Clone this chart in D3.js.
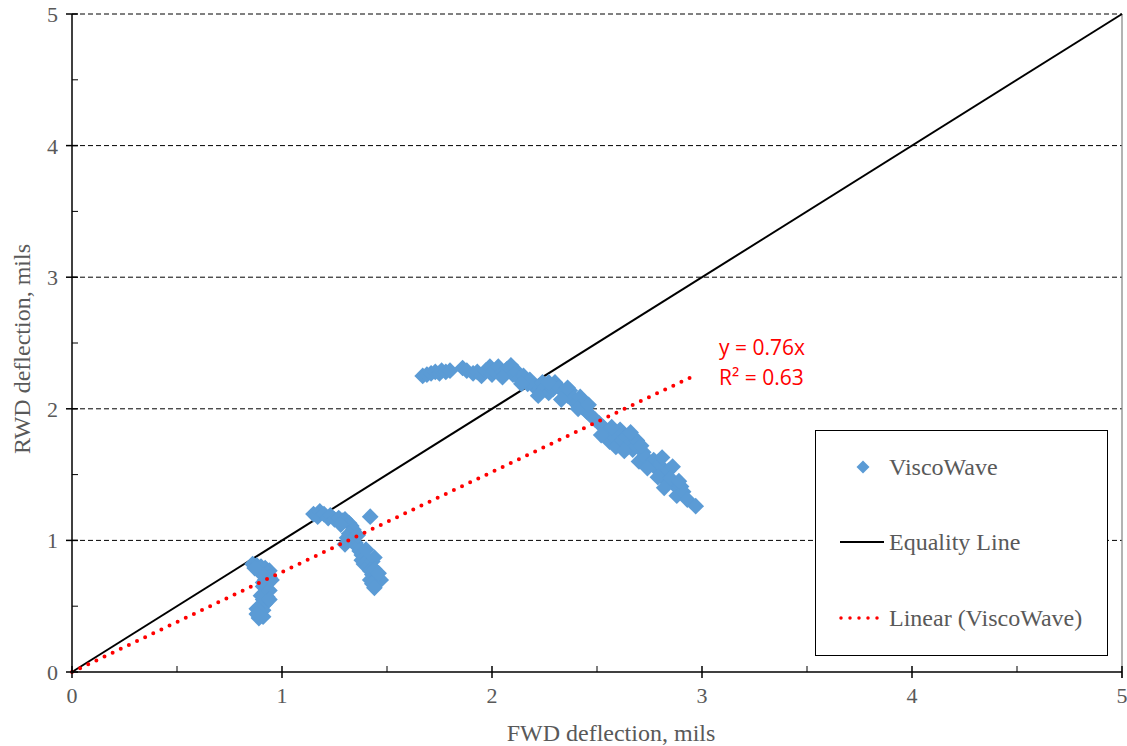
<!DOCTYPE html>
<html><head><meta charset="utf-8">
<script src="https://cdn.jsdelivr.net/npm/d3@7"></script>
<style>body{margin:0;background:#fff}</style>
</head><body>
<script>
// FWD (x) vs RWD (y) deflection, mils
const fwd = [
 0.86,0.88,0.90,0.92,0.94,0.93,0.94,0.92,0.93,0.91,0.93,0.92,0.93,0.91,0.92,0.90,0.91,0.89,0.90,0.89,0.91,0.88,0.90,0.91,0.90,0.87,0.94,0.95,0.88,0.94,
 1.15,1.17,1.18,1.20,1.22,1.23,1.25,1.27,1.29,1.30,1.32,1.33,1.34,1.32,1.31,1.33,1.35,1.30,1.36,1.37,1.38,1.40,1.38,1.39,1.41,1.43,1.44,1.42,1.43,1.42,1.45,1.47,1.43,1.44,1.42,1.28,1.36,1.40,1.44,1.46,
 1.67,1.69,1.71,1.73,1.75,1.76,1.78,1.80,
 1.86,1.88,1.91,1.93,1.95,1.97,1.99,2.00,2.01,2.03,2.05,2.07,2.09,2.10,2.12,2.13,2.15,2.17,2.18,2.20,2.22,2.24,2.25,2.27,2.29,2.30,2.32,2.34,2.36,2.37,2.39,2.40,2.42,2.43,2.44,2.45,2.47,2.49,2.51,2.53,2.55,2.56,2.58,2.59,2.61,2.62,2.64,2.65,2.67,2.69,2.70,2.72,2.73,2.75,2.77,2.78,2.80,2.81,2.82,2.83,2.84,2.86,2.87,2.88,2.90,2.91,2.93,2.97,
 2.41,2.46,2.52,2.57,2.63,2.66,2.71,2.74,2.79,2.85,2.89,2.82,2.22,2.27,2.14,2.36,2.33,2.05
];
const rwd = [
 0.82,0.81,0.80,0.79,0.77,0.75,0.72,0.70,0.67,0.65,0.63,0.60,0.57,0.55,0.52,0.50,0.47,0.45,0.43,0.41,0.42,0.48,0.58,0.68,0.75,0.79,0.62,0.70,0.44,0.55,
 1.20,1.18,1.22,1.20,1.17,1.19,1.16,1.17,1.15,1.16,1.13,1.11,1.08,1.05,1.02,1.00,0.98,0.97,0.95,0.92,0.89,0.87,0.85,0.82,0.80,0.84,0.87,0.77,0.74,0.70,0.71,0.70,0.67,0.64,1.18,1.12,1.04,0.93,0.78,0.75,
 2.25,2.26,2.27,2.28,2.27,2.29,2.28,2.29,
 2.31,2.29,2.27,2.28,2.25,2.29,2.32,2.26,2.29,2.32,2.28,2.30,2.33,2.26,2.28,2.23,2.25,2.19,2.22,2.17,2.14,2.20,2.16,2.12,2.15,2.20,2.16,2.13,2.10,2.14,2.08,2.04,2.09,2.01,2.05,1.98,1.95,1.92,1.89,1.86,1.83,1.75,1.79,1.71,1.84,1.76,1.79,1.72,1.69,1.76,1.60,1.67,1.63,1.58,1.61,1.55,1.57,1.63,1.50,1.45,1.53,1.56,1.42,1.34,1.41,1.37,1.31,1.26,
 2.00,2.03,1.80,1.86,1.68,1.82,1.72,1.55,1.48,1.47,1.45,1.40,2.10,2.20,2.19,2.16,2.07,2.24
];
const xTicks = [0,1,2,3,4,5];
const yTicks = [0,1,2,3,4,5];
const slope = 0.76;
const trendRange = [0, 2.95];
const eqText = ["y = 0.76x", "R² = 0.63"];
const legendLabels = ["ViscoWave", "Equality Line", "Linear (ViscoWave)"];

const W = 1127, H = 746;
const L = 72, R = 1122, T = 14, B = 672;
const svg = d3.select("body").append("svg").attr("width", W).attr("height", H);
const x = d3.scaleLinear().domain([0,5]).range([L,R]);
const y = d3.scaleLinear().domain([0,5]).range([B,T]);
const grey = "#595959";
const serif = "'Liberation Serif','Times New Roman',serif";

// gridlines
svg.append("g").selectAll("line").data(yTicks.filter(d=>d>0)).join("line")
 .attr("x1", L).attr("x2", R).attr("y1", d=>y(d)).attr("y2", d=>y(d))
 .attr("stroke", "#000").attr("stroke-width", 1).attr("stroke-dasharray", "5,3");
// right border
svg.append("line").attr("x1", R).attr("x2", R).attr("y1", T).attr("y2", B+6)
 .attr("stroke", "#808080").attr("stroke-width", 1.2);

// equality line
svg.append("line").attr("x1", x(0)).attr("y1", y(0)).attr("x2", x(5)).attr("y2", y(5))
 .attr("stroke", "#000").attr("stroke-width", 2);

// points
const pts = fwd.map((d,i)=>[d, rwd[i]]);
svg.append("g").selectAll("path").data(pts).join("path")
 .attr("d", d3.symbol().type(d3.symbolSquare).size(140))
 .attr("transform", d=>`translate(${x(d[0])},${y(d[1])}) rotate(45)`)
 .attr("fill", "#5B9BD5");

// trendline
svg.append("line").attr("x1", x(trendRange[0])).attr("y1", y(slope*trendRange[0]))
 .attr("x2", x(trendRange[1])).attr("y2", y(slope*trendRange[1]))
 .attr("stroke", "#FF0000").attr("stroke-width", 4).attr("stroke-linecap", "round")
 .attr("stroke-dasharray", "0,9").attr("stroke-dashoffset", -9);

// axes
svg.append("line").attr("x1", L).attr("x2", L).attr("y1", T).attr("y2", B).attr("stroke", "#000").attr("stroke-width", 1.5);
svg.append("line").attr("x1", L).attr("x2", R).attr("y1", B).attr("y2", B).attr("stroke", "#000").attr("stroke-width", 1.5);
// major ticks
svg.append("g").selectAll("line").data(xTicks).join("line")
 .attr("x1", d=>x(d)).attr("x2", d=>x(d)).attr("y1", B-6).attr("y2", B+6).attr("stroke", "#000").attr("stroke-width", 1.5);
svg.append("g").selectAll("line").data(yTicks).join("line")
 .attr("y1", d=>y(d)).attr("y2", d=>y(d)).attr("x1", L-6).attr("x2", L+6).attr("stroke", "#000").attr("stroke-width", 1.5);
// minor ticks
const minors = xTicks.slice(0,-1).map(d=>d+0.5);
svg.append("g").selectAll("line").data(minors).join("line")
 .attr("x1", d=>x(d)).attr("x2", d=>x(d)).attr("y1", B-6).attr("y2", B).attr("stroke", "#000").attr("stroke-width", 1);
svg.append("g").selectAll("line").data(minors).join("line")
 .attr("y1", d=>y(d)).attr("y2", d=>y(d)).attr("x1", L).attr("x2", L+6).attr("stroke", "#000").attr("stroke-width", 1);
// tick labels
svg.append("g").selectAll("text").data(xTicks).join("text")
 .attr("x", d=>x(d)).attr("y", B+31).attr("text-anchor", "middle")
 .attr("font-family", serif).attr("font-size", 22).attr("fill", grey).text(d=>d);
svg.append("g").selectAll("text").data(yTicks).join("text")
 .attr("x", L-14).attr("y", d=>y(d)+8).attr("text-anchor", "end")
 .attr("font-family", serif).attr("font-size", 22).attr("fill", grey).text(d=>d);
// axis titles
svg.append("text").attr("x", 611).attr("y", 741).attr("text-anchor", "middle")
 .attr("font-family", serif).attr("font-size", 24).attr("fill", grey).text("FWD deflection, mils");
svg.append("text").attr("transform", `translate(30,${349}) rotate(-90)`).attr("text-anchor", "middle")
 .attr("font-family", serif).attr("font-size", 24).attr("fill", grey).text("RWD deflection, mils");

// equation
svg.append("g").selectAll("text").data(eqText).join("text")
 .attr("x", 719).attr("y", (d,i)=>355+i*30)
 .attr("font-family", "'Open Sans','Liberation Sans',sans-serif").attr("font-size", 21).attr("fill", "#FF0000").text(d=>d);

// legend
const lg = svg.append("g");
lg.append("rect").attr("x", 815.5).attr("y", 430.5).attr("width", 292).attr("height", 225)
 .attr("fill", "#fff").attr("stroke", "#000").attr("stroke-width", 1);
lg.append("path").attr("d", d3.symbol().type(d3.symbolSquare).size(85))
 .attr("transform", "translate(863,467) rotate(45)").attr("fill", "#5B9BD5");
lg.append("line").attr("x1", 840).attr("x2", 884).attr("y1", 542).attr("y2", 542).attr("stroke", "#000").attr("stroke-width", 2);
lg.append("line").attr("x1", 840).attr("x2", 884).attr("y1", 618).attr("y2", 618)
 .attr("stroke", "#FF0000").attr("stroke-width", 3.5).attr("stroke-linecap", "round").attr("stroke-dasharray", "0,9").attr("stroke-dashoffset", -1);
lg.selectAll("text").data(legendLabels).join("text")
 .attr("x", 889).attr("y", (d,i)=>[475,550,626][i])
 .attr("font-family", serif).attr("font-size", 24).attr("fill", grey).text(d=>d);
</script>
</body></html>
